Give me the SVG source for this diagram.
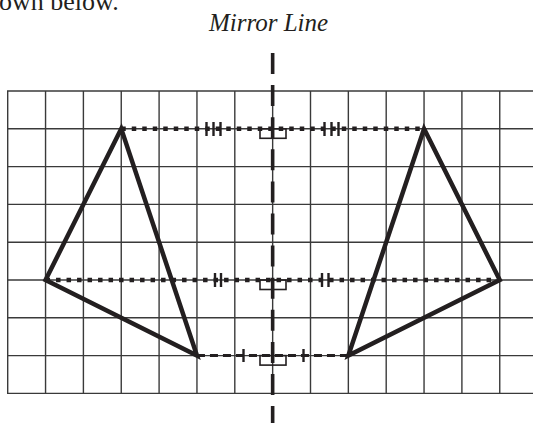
<svg xmlns="http://www.w3.org/2000/svg" width="533" height="423" viewBox="0 0 533 423">
<style>
.grid line{stroke:#3a3a3a;stroke-width:1.4}
.tri{fill:none;stroke:#231f20;stroke-width:4.5;stroke-linejoin:miter;stroke-miterlimit:10}
.dot{stroke:#231f20;stroke-width:4.5;stroke-dasharray:4.5 6}
.dash{stroke:#231f20;stroke-width:3;stroke-dasharray:8 5}
.tick{stroke:#231f20;stroke-width:2.4}
.ra{fill:none;stroke:#231f20;stroke-width:1.6}
.mirror{stroke:#231f20;stroke-width:3.6;stroke-dasharray:21 11.1}
.t{font-family:"Liberation Serif","Times New Roman",serif;fill:#231f20}
</style>
<rect width="533" height="423" fill="#fff"/>
<text class="t" x="-1" y="10" font-size="26">own below.</text>
<text class="t" x="268.5" y="31" font-size="25" font-style="italic" text-anchor="middle">Mirror Line</text>
<g id="grid" class="grid">
<line x1="7.7" y1="91" x2="7.7" y2="393.4"/>
<line x1="45.55" y1="91" x2="45.55" y2="393.4"/>
<line x1="83.4" y1="91" x2="83.4" y2="393.4"/>
<line x1="121.25" y1="91" x2="121.25" y2="393.4"/>
<line x1="159.1" y1="91" x2="159.1" y2="393.4"/>
<line x1="196.95" y1="91" x2="196.95" y2="393.4"/>
<line x1="234.8" y1="91" x2="234.8" y2="393.4"/>
<line x1="272.65" y1="91" x2="272.65" y2="393.4"/>
<line x1="310.5" y1="91" x2="310.5" y2="393.4"/>
<line x1="348.35" y1="91" x2="348.35" y2="393.4"/>
<line x1="386.2" y1="91" x2="386.2" y2="393.4"/>
<line x1="424.05" y1="91" x2="424.05" y2="393.4"/>
<line x1="461.9" y1="91" x2="461.9" y2="393.4"/>
<line x1="499.75" y1="91" x2="499.75" y2="393.4"/>
<line x1="537.6" y1="91" x2="537.6" y2="393.4"/>
<line x1="7" y1="91" x2="538" y2="91"/>
<line x1="7" y1="128.8" x2="538" y2="128.8"/>
<line x1="7" y1="166.6" x2="538" y2="166.6"/>
<line x1="7" y1="204.4" x2="538" y2="204.4"/>
<line x1="7" y1="242.2" x2="538" y2="242.2"/>
<line x1="7" y1="280" x2="538" y2="280"/>
<line x1="7" y1="317.8" x2="538" y2="317.8"/>
<line x1="7" y1="355.6" x2="538" y2="355.6"/>
<line x1="7" y1="393.4" x2="538" y2="393.4"/>
</g>
<g id="connectors">
<line class="dot" x1="121.25" y1="128.8" x2="424.05" y2="128.8"/>
<line class="dot" x1="45.55" y1="280" x2="499.75" y2="280"/>
<line class="dash" x1="196.95" y1="355.6" x2="348.35" y2="355.6"/>
<line class="tick" x1="206.5" y1="122" x2="206.5" y2="136"/>
<line class="tick" x1="213.5" y1="122" x2="213.5" y2="136"/>
<line class="tick" x1="220.5" y1="122" x2="220.5" y2="136"/>
<line class="tick" x1="324.5" y1="122" x2="324.5" y2="136"/>
<line class="tick" x1="331.5" y1="122" x2="331.5" y2="136"/>
<line class="tick" x1="338.5" y1="122" x2="338.5" y2="136"/>
<line class="tick" x1="215" y1="273" x2="215" y2="287"/>
<line class="tick" x1="221" y1="273" x2="221" y2="287"/>
<line class="tick" x1="322" y1="273" x2="322" y2="287"/>
<line class="tick" x1="328.5" y1="273" x2="328.5" y2="287"/>
<line class="tick" x1="243.5" y1="349" x2="243.5" y2="362"/>
<line class="tick" x1="303.5" y1="349" x2="303.5" y2="362"/>
<rect class="ra" x="260" y="128.8" width="26" height="9.5"/>
<rect class="ra" x="260" y="280" width="26" height="9.5"/>
<rect class="ra" x="260" y="355.6" width="26" height="9.5"/>
</g>
<g id="mirror-line">
<line class="mirror" x1="272.65" y1="53" x2="272.65" y2="423"/>
</g>
<g id="left-triangle">
<polygon class="tri" points="121.25,128.8 45.55,280 196.95,355.6"/>
</g>
<g id="right-triangle">
<polygon class="tri" points="424.05,128.8 499.75,280 348.35,355.6"/>
</g>
</svg>
